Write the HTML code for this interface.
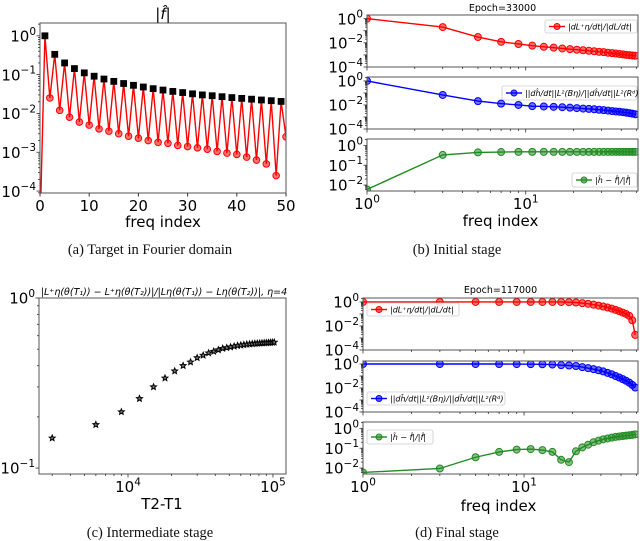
<!DOCTYPE html>
<html><head><meta charset="utf-8">
<style>
html,body{margin:0;padding:0;background:#fff;}
svg{display:block;font-family:"DejaVu Sans","Liberation Sans",sans-serif;}
.cap{font-family:"Liberation Serif",serif;font-size:14.5px;fill:#111;}
</style></head>
<body>
<svg id="fig" width="640" height="541" viewBox="0 0 640 541" xmlns="http://www.w3.org/2000/svg"></svg>
<script>
// ---- data ----
const aIdx = [0,1,2,3,4,5,6,7,8,9,10,11,12,13,14,15,16,17,18,19,20,21,22,23,24,25,26,27,28,29,30,31,32,33,34,35,36,37,38,39,40,41,42,43,44,45,46,47,48,49,50];
const aRed = [0.00001,1,0.025,0.333,0.012,0.2,0.008,0.143,0.006,0.111,0.005,0.091,0.004,0.077,0.0035,0.067,0.003,0.059,0.0026,0.053,0.0023,0.048,0.002,0.0435,0.0018,0.04,0.0017,0.037,0.0015,0.0345,0.0014,0.032,0.0013,0.030,0.0012,0.0286,0.00105,0.027,0.00095,0.0256,0.00088,0.0244,0.00075,0.0233,0.00063,0.0222,0.0005,0.0213,0.00025,0.0204,0.0025];
const aBlackIdx = [1,3,5,7,9,11,13,15,17,19,21,23,25,27,29,31,33,35,37,39,41,43,45,47,49];
const aBlack = [1,0.333,0.2,0.143,0.111,0.091,0.077,0.067,0.059,0.053,0.048,0.0435,0.04,0.037,0.0345,0.032,0.030,0.0286,0.027,0.0256,0.0244,0.0233,0.0222,0.0213,0.0204];
const freqs = [1,3,5,7,9,11,13,15,17,19,21,23,25,27,29,31,33,35,37,39,41,43,45,47,49];
const bRed = [1,0.2,0.03,0.012,0.008,0.0058,0.0047,0.004,0.0034,0.003,0.0027,0.0024,0.0022,0.002,0.0018,0.0017,0.0015,0.0014,0.0013,0.0012,0.0011,0.001,0.00095,0.0009,0.00085];
const bBlue = [1,0.068,0.021,0.013,0.01,0.008,0.0075,0.007,0.0065,0.006,0.0055,0.005,0.0047,0.0044,0.004,0.0037,0.0034,0.0031,0.0029,0.0027,0.0025,0.0023,0.0021,0.0019,0.0017];
const bGreen = [0.006,0.33,0.44,0.46,0.47,0.47,0.47,0.47,0.47,0.47,0.47,0.47,0.47,0.47,0.47,0.47,0.47,0.47,0.47,0.47,0.47,0.47,0.47,0.47,0.47];
const dRed = [1,1,1,1,1,1,1,1,1,0.95,0.9,0.8,0.7,0.6,0.5,0.42,0.35,0.28,0.22,0.17,0.13,0.1,0.07,0.03,0.0018];
const dBlue = [1,1,1,1,0.98,0.97,0.95,0.9,0.8,0.75,0.68,0.55,0.45,0.37,0.3,0.24,0.18,0.14,0.1,0.075,0.055,0.04,0.028,0.018,0.011];
const dGreen = [0.006,0.0095,0.035,0.065,0.085,0.09,0.08,0.065,0.026,0.02,0.07,0.11,0.15,0.2,0.24,0.28,0.31,0.34,0.37,0.39,0.41,0.43,0.45,0.47,0.5];
const cX = [3000,6000,9000,12000,15000,18000,21000,24000,27000,30000,33000,36000,39000,42000,45000,48000,51000,54000,57000,60000,63000,66000,69000,72000,75000,78000,81000,84000,87000,90000,93000,96000,99000,102000];
const cY = [0.15,0.18,0.214,0.256,0.30,0.338,0.372,0.40,0.42,0.445,0.46,0.475,0.485,0.495,0.505,0.51,0.515,0.52,0.525,0.528,0.531,0.534,0.536,0.538,0.54,0.541,0.542,0.543,0.544,0.545,0.546,0.547,0.548,0.549];

const NS = "http://www.w3.org/2000/svg";
const fig = document.getElementById('fig');
const TFS = 15;
function el(tag, attrs, parent){
  const e = document.createElementNS(NS, tag);
  for (const k in attrs) e.setAttribute(k, attrs[k]);
  (parent||fig).appendChild(e);
  return e;
}
function lin(v, lo, hi, p0, p1){ return p0 + (v-lo)/(hi-lo)*(p1-p0); }
function lg(v, lo, hi, p0, p1){ return p0 + (Math.log10(v)-lo)/(hi-lo)*(p1-p0); }
let clipN = 0;
function makeAxes(name, x0, y0, x1, y1){
  const g = el('g', {});
  
  
  clipN++;
  const cp = el('clipPath', {id:'cp'+clipN}, g);
  el('rect', {x:x0, y:y0, width:x1-x0, height:y1-y0}, cp);
  const plot = el('g', {'clip-path':'url(#cp'+clipN+')'}, g);
  return {g, plot, x0, y0, x1, y1};
}
function frame(ax){
  const r = el('rect', {x:ax.x0, y:ax.y0, width:ax.x1-ax.x0, height:ax.y1-ax.y0, fill:'none', stroke:'#555', 'stroke-width':1}, ax.g);
  
  
}
function powLabel(parent, x, y, exp, anchor, fs){
  const t = el('text', {x:x, y:y, 'font-size':fs, 'text-anchor':anchor, fill:'#000'}, parent);
  
  
  t.appendChild(document.createTextNode('10'));
  const s = el('tspan', {'font-size':fs*0.7, dy:-fs*0.45}, t);
  s.textContent = String(exp).replace('-', '\u2212');
  return t;
}
function yLogTicks(ax, lo, hi, majors, fs, labelled){
  for (let d = Math.floor(lo); d <= Math.ceil(hi); d++){
    for (let m = 1; m < 10; m++){
      const v = Math.log10(m) + d;
      if (v < lo - 1e-9 || v > hi + 1e-9) continue;
      const y = lin(v, lo, hi, ax.y1, ax.y0);
      const len = m === 1 ? 3.5 : 2;
      el('line', {x1:ax.x0-len, x2:ax.x0, y1:y, y2:y, stroke:'#333', 'stroke-width':0.8}, ax.g);
    }
  }
  majors.forEach(e => {
    const y = lin(e, lo, hi, ax.y1, ax.y0);
    if (labelled) powLabel(ax.g, ax.x0-4, y+fs*0.38, e, 'end', fs);
  });
}
function xLogTicks(ax, lo, hi, majors, fs, labelled){
  for (let d = Math.floor(lo); d <= Math.ceil(hi); d++){
    for (let m = 1; m < 10; m++){
      const v = Math.log10(m) + d;
      if (v < lo - 1e-9 || v > hi + 1e-9) continue;
      const x = lin(v, lo, hi, ax.x0, ax.x1);
      const len = m === 1 ? 3.5 : 2;
      el('line', {x1:x, x2:x, y1:ax.y1, y2:ax.y1+len, stroke:'#333', 'stroke-width':0.8}, ax.g);
    }
  }
  if (labelled) majors.forEach(e => {
    const x = lin(e, lo, hi, ax.x0, ax.x1);
    powLabel(ax.g, x, ax.y1+fs+3, e, 'middle', fs);
  });
}
function series(ax, xs, ys, fx, fy, color, name){
  const pts = xs.map((x,i) => fx(x).toFixed(2)+','+fy(ys[i]).toFixed(2)).join(' ');
  const pl = el('polyline', {points:pts, fill:'none', stroke:color, 'stroke-width':1.4}, ax.plot);
  
  
  xs.forEach((x,i) => {
    const c = el('circle', {cx:fx(x), cy:fy(ys[i]), r:3.5, fill:color, 'fill-opacity':0.55, stroke:color, 'stroke-width':1}, ax.plot);
    
    
  });
}
function text(str, x, y, fs, anchor, name, cls){
  const t = el('text', {x:x, y:y, 'font-size':fs, 'text-anchor':anchor||'middle', fill:'#000'});
  if (cls) t.setAttribute('class', cls);
  
  
  t.textContent = str;
  return t;
}
function legend(ax, x, y, w, h, color, label, name){
  const g = el('g', {}, ax.g);
  
  
  el('rect', {x:x, y:y, width:w, height:h, rx:2, fill:'#fff', 'fill-opacity':0.85, stroke:'#ccc', 'stroke-width':0.8}, g);
  el('line', {x1:x+4, x2:x+20, y1:y+h/2, y2:y+h/2, stroke:color, 'stroke-width':1.4}, g);
  el('circle', {cx:x+12, cy:y+h/2, r:3, fill:color, 'fill-opacity':0.6, stroke:color}, g);
  const t = el('text', {x:x+23, y:y+h/2+3, 'font-size':8, 'font-style':'italic', fill:'#000'}, g);
  t.textContent = label;
}

// ---- panel (a) ----
{
  const ax = makeAxes('panel-a-target-fourier', 40, 23, 286, 193);
  const lo = -4.05, hi = 0.33;
  const fx = v => lin(v, 0, 50, ax.x0, ax.x1);
  const fy = v => lg(v, lo, hi, ax.y1, ax.y0);
  const pts = aIdx.map((x,i) => fx(x).toFixed(2)+','+fy(aRed[i]).toFixed(2)).join(' ');
  const pl = el('polyline', {points:pts, fill:'none', stroke:'#f00', 'stroke-width':1.4}, ax.plot);
  
  
  aIdx.forEach((x,i) => {
    if (x % 2 === 0 && x > 0) {
      const c = el('circle', {cx:fx(x), cy:fy(aRed[i]), r:3.3, fill:'#f00', 'fill-opacity':0.55, stroke:'#f00'}, ax.plot);
      
      
    }
  });
  aBlackIdx.forEach((x,i) => {
    const s = el('rect', {x:fx(x)-3.4, y:fy(aBlack[i])-3.4, width:6.8, height:6.8, fill:'#000'}, ax.plot);
    
    
  });
  frame(ax);
  yLogTicks(ax, lo, hi, [0,-1,-2,-3,-4], TFS, true);
  [0,10,20,30,40,50].forEach(v => {
    const x = fx(v);
    el('line', {x1:x, x2:x, y1:ax.y1, y2:ax.y1+3.5, stroke:'#333'}, ax.g);
    text(String(v), x, ax.y1+18, TFS, 'middle', 'x-tick-label');
  });
  const tt = text('|f\u0302|', 163, 19, 15, 'middle', 'panel-a-title');
  tt.setAttribute('font-style', 'italic');
  text('freq index', 163, 227, 15, 'middle', 'x-axis-title');
  text('(a) Target in Fourier domain', 150, 254, 14.5, 'middle', 'caption-a', 'cap');
}

// ---- panels (b) and (d) ----
function stagePanel(pref, ox, rows, epochLabel, epochY, xlabelY, legends){
  const xlo = 0, xhi = Math.log10(51);
  rows.forEach((r, k) => {
    const ax = makeAxes(pref+'-subplot-'+(k+1), ox, r.y0, 638, r.y1);
    const fx = v => lg(v, xlo, xhi, ax.x0, ax.x1);
    const fy = v => lg(v, r.lo, r.hi, ax.y1, ax.y0);
    series(ax, freqs, r.data, fx, fy, r.color, r.name);
    frame(ax);
    yLogTicks(ax, r.lo, r.hi, r.majors, TFS, true);
    xLogTicks(ax, xlo, xhi, [0,1], TFS, k === 2);
    const L = legends[k];
    legend(ax, L[0], L[1], L[2], L[3], r.color, r.label, r.name+'-legend');
  });
  text(epochLabel, (ox+638)/2, epochY, 9.5, 'middle', pref+'-epoch-title');
  text('freq index', (ox+638)/2 - 2, xlabelY, 15, 'middle', pref+'-x-axis-title');
}
const lab1 = '|dL\u207A\u03B7/dt|/|dL/dt|';
const lab2 = '||dh\u0302/dt||L\u00B2(B\u03B7)/||dh\u0302/dt||L\u00B2(R\u1D48)';
const lab3 = '|h\u0302 \u2212 f\u0302|/|f\u0302|';
stagePanel('panel-b', 367, [
  {y0:15, y1:67, lo:-4, hi:0.3, majors:[0,-2,-4], data:bRed, color:'#f00', name:'red-series', label:lab1},
  {y0:77, y1:129, lo:-4, hi:0.33, majors:[0,-2,-4], data:bBlue, color:'#00f', name:'blue-series', label:lab2},
  {y0:139, y1:191, lo:-2.3, hi:0.32, majors:[0,-1,-2], data:bGreen, color:'#228b22', name:'green-series', label:lab3}
], 'Epoch=33000', 11, 226, [[545,20,92,13],[502,86,135,14],[572,173,65,14]]);
stagePanel('panel-d', 363, [
  {y0:298, y1:350, lo:-4, hi:0.33, majors:[0,-2,-4], data:dRed, color:'#f00', name:'red-series', label:lab1},
  {y0:361, y1:412, lo:-4, hi:0.25, majors:[0,-2,-4], data:dBlue, color:'#00f', name:'blue-series', label:lab2},
  {y0:422, y1:474, lo:-2.3, hi:0.32, majors:[0,-1,-2], data:dGreen, color:'#228b22', name:'green-series', label:lab3}
], 'Epoch=117000', 293, 511, [[367,303,92,13],[367,392,138,13],[367,430,66,14]]);
text('(b) Initial stage', 457, 254, 14.5, 'middle', 'caption-b', 'cap');
text('(d) Final stage', 457, 537, 14.5, 'middle', 'caption-d', 'cap');

// ---- panel (c) ----
{
  const ax = makeAxes('panel-c-intermediate', 39, 298, 286, 474);
  const xlo = 3.386, xhi = 5.09, ylo = -1.035, yhi = 0;
  const fx = v => lg(v, xlo, xhi, ax.x0, ax.x1);
  const fy = v => lg(v, ylo, yhi, ax.y1, ax.y0);
  function star(cx, cy, R){
    let p = [];
    for (let i = 0; i < 10; i++){
      const a = -Math.PI/2 + i*Math.PI/5;
      const rr = i % 2 ? R*0.45 : R;
      p.push((cx+rr*Math.cos(a)).toFixed(2)+','+(cy+rr*Math.sin(a)).toFixed(2));
    }
    return p.join(' ');
  }
  cX.forEach((x,i) => {
    const s = el('polygon', {points:star(fx(x), fy(cY[i]), 3.1), fill:'#777', stroke:'#000', 'stroke-width':1}, ax.plot);
    
    
  });
  frame(ax);
  yLogTicks(ax, ylo, yhi, [0,-1], TFS, true);
  xLogTicks(ax, xlo, xhi, [4,5], TFS, true);
  const ct = text('|L\u207A\u03B7(\u03B8(T\u2081)) \u2212 L\u207A\u03B7(\u03B8(T\u2082))|/|L\u03B7(\u03B8(T\u2081)) \u2212 L\u03B7(\u03B8(T\u2082))|, \u03B7=4', 164, 295, 9.5, 'middle', 'panel-c-title');
  ct.setAttribute('font-style', 'italic');
  text('T2-T1', 162, 509, 15, 'middle', 'x-axis-title');
  text('(c) Intermediate stage', 150, 537, 14.5, 'middle', 'caption-c', 'cap');
}
</script>
</body></html>
